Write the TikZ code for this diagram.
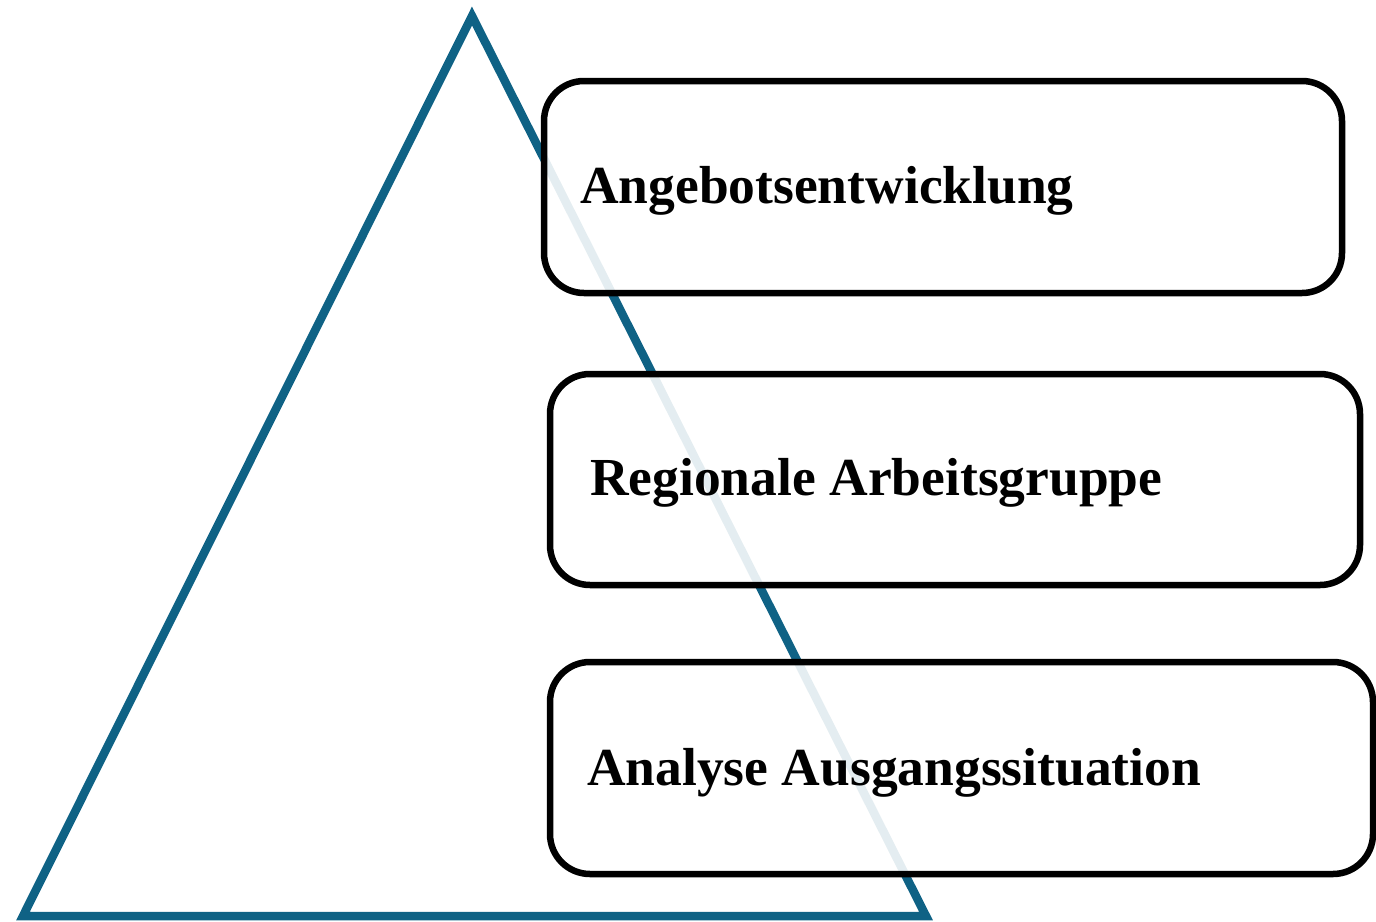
\documentclass[tikz,border=0pt]{standalone}
\usepackage{fontspec}
\setmainfont{Liberation Serif}
\begin{document}
\begin{tikzpicture}[x=1pt,y=-1pt,
  tri/.style={draw=triblue,line width=8.5pt,line join=miter},
  stage/.style={draw=black,line width=6.5pt,fill=white,fill opacity=0.89,rounded corners=40pt},
  label/.style={anchor=base west,inner sep=0pt,font=\bfseries\fontsize{53.5}{60}\selectfont}]
\definecolor{triblue}{HTML}{0F6285}
\useasboundingbox (0,0) rectangle (1376,921);
\coordinate (top) at (472,16);
\coordinate (bl) at (23,916);
\coordinate (br) at (926,916);
\draw[tri] (top) -- (bl) -- (br) -- cycle;
\draw[stage] (544,81) rectangle (1342,293);
\draw[stage] (550,374) rectangle (1360,585);
\draw[stage] (550,662) rectangle (1373,874);
\node[label] (t1) at (580,203) {Angebotsentwicklung};
\node[label] (t2) at (590,495) {Regionale Arbeitsgruppe};
\node[label] (t3) at (587,785) {Analyse Ausgangssituation};
\end{tikzpicture}
\end{document}
